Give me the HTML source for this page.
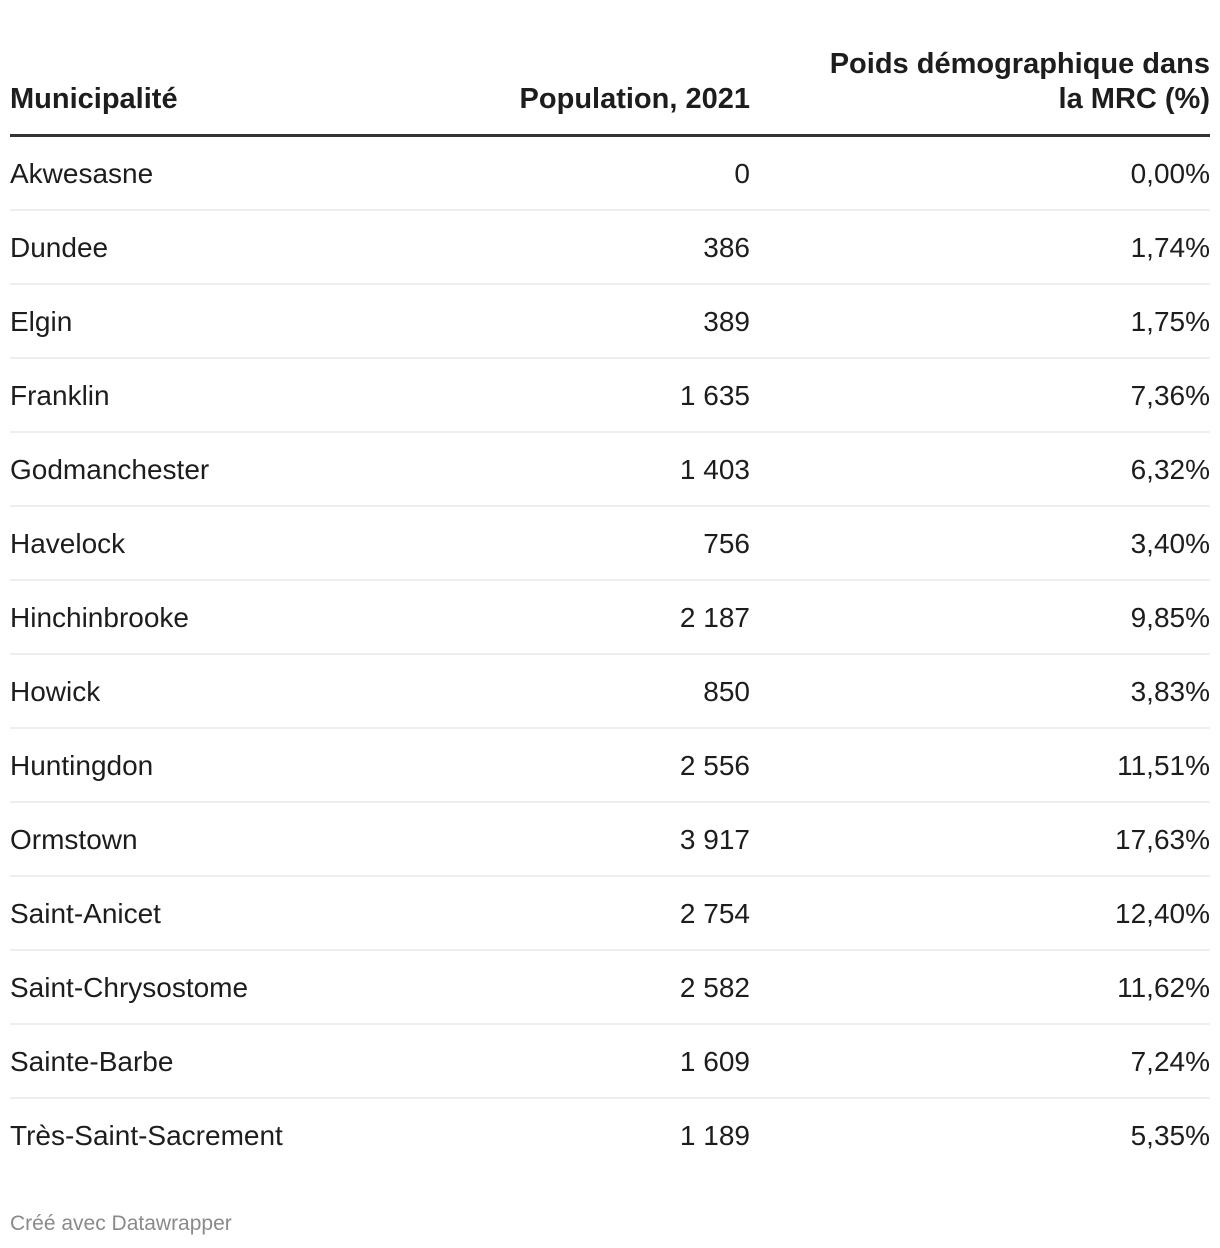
<!DOCTYPE html>
<html><head><meta charset="utf-8"><style>
body{margin:0;width:1220px;height:1248px;background:#fff;font-family:"Liberation Sans",sans-serif;color:#1d1d1d;position:relative;overflow:hidden}
.h{position:absolute;font-weight:bold;font-size:29px;line-height:35px;color:#1d1d1d;white-space:nowrap}
.row{position:absolute;left:10px;width:1200px;height:74px;border-bottom:2px solid #eeeeee;box-sizing:border-box}
.row.last{border-bottom:none}
.c{position:absolute;top:0;line-height:74px;font-size:28px;white-space:nowrap}
.c1{left:0}.c2{right:460px}.c3{right:0}
</style></head><body>
<div class="h" style="left:10px;top:82px">Municipalité</div>
<div class="h" style="right:470px;top:82px">Population, 2021</div>
<div class="h" style="right:10px;top:47px;text-align:right">Poids démographique dans<br>la MRC (%)</div>
<div style="position:absolute;left:10px;width:1200px;top:134px;height:3px;background:#333"></div>
<div id="tbl"></div>
<div style="position:absolute;left:10px;top:1212px;font-size:21px;color:#8a8a8a">Créé avec Datawrapper</div>
<script>
const names=["Akwesasne","Dundee","Elgin","Franklin","Godmanchester","Havelock","Hinchinbrooke","Howick","Huntingdon","Ormstown","Saint-Anicet","Saint-Chrysostome","Sainte-Barbe","Très-Saint-Sacrement"];
const pops=["0","386","389","1 635","1 403","756","2 187","850","2 556","3 917","2 754","2 582","1 609","1 189"];
const pcts=["0,00%","1,74%","1,75%","7,36%","6,32%","3,40%","9,85%","3,83%","11,51%","17,63%","12,40%","11,62%","7,24%","5,35%"];
const t=document.getElementById('tbl');
names.forEach((n,i)=>{
 const r=document.createElement('div');
 r.className='row'+(i===names.length-1?' last':'');
 r.style.top=(137+i*74)+'px';
 
 
 [[n,'c1','cell-municipalite'],[pops[i],'c2','cell-population'],[pcts[i],'c3','cell-poids']].forEach(([v,c,dn])=>{
  const d=document.createElement('div');d.className='c '+c;d.textContent=v;
  
  
  r.appendChild(d);
 });
 t.appendChild(r);
});
</script>
</body></html>
